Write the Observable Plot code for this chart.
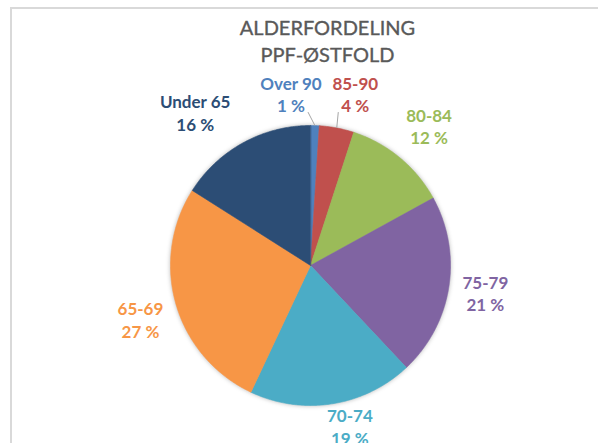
<!DOCTYPE html>
<html><head><meta charset="utf-8">
<script src="https://cdn.jsdelivr.net/npm/d3@7"></script>
<script src="https://cdn.jsdelivr.net/npm/@observablehq/plot@0.6"></script>
<style>
body{margin:0;background:#fff;overflow:hidden}
#wrap{position:relative;width:598px;height:443px;overflow:hidden}
#wrap svg{position:absolute;left:0;top:0}
#border{position:absolute;left:10px;top:7px;width:640px;height:480px;border-left:2px solid #d9d9d9;border-top:2px solid #d9d9d9;pointer-events:none}
</style></head><body>
<div id="wrap"><div id="border"></div></div>
<script>
// ---- data ----
const categories = ["Over 90", "85-90", "80-84", "75-79", "70-74", "65-69", "Under 65"];
const percents   = [1, 4, 12, 21, 19, 27, 16];
const colors     = ["#4F81BD", "#C0504D", "#9BBB59", "#8064A2", "#4BACC6", "#F79646", "#2C4D75"];
const titleLines = ["ALDERFORDELING", "PPF-ØSTFOLD"];
const leaderSlices = ["Over 90", "85-90"];

// ---- layout (pixels) ----
const W = 598, H = 443, cx = 310, cy = 265, R = 140, labelR = 1.25;
const labelNudge = {
  "Over 90": [-25, 3], "85-90": [12, 0], "80-84": [7, -5], "75-79": [2, 0],
  "70-74": [12, -12], "65-69": [-2, 5], "Under 65": [-31, 0]
};

const total = d3.sum(percents);
let cum = 0;
const slices = categories.map((c, i) => {
  const a0 = cum / total * 2 * Math.PI; cum += percents[i];
  const a1 = cum / total * 2 * Math.PI;
  const mid = (a0 + a1) / 2;
  const [nx, ny] = labelNudge[c];
  const lx = Math.sin(mid) * labelR + nx / R;
  const ly = Math.cos(mid) * labelR - ny / R;
  return {c, v: percents[i], a0, a1, mid, lx, ly};
});

// polygon outline of each slice, derived from its angles
const pts = [];
for (const s of slices) {
  pts.push({c: s.c, x: 0, y: 0});
  const n = Math.max(2, Math.ceil((s.a1 - s.a0) / (Math.PI / 360)));
  for (let k = 0; k <= n; k++) {
    const a = s.a0 + (s.a1 - s.a0) * k / n;
    pts.push({c: s.c, x: Math.sin(a), y: Math.cos(a)});
  }
}

const leaders = slices.filter(s => leaderSlices.includes(s.c)).map(s => ({
  x1: Math.sin(s.mid), y1: Math.cos(s.mid),
  x2: s.lx + (s.lx < Math.sin(s.mid) ? 17 : -17) / R, y2: s.ly - 18.5 / R
}));

const chart = Plot.plot({
  width: W, height: H, margin: 0,
  x: {domain: [-1, 1], range: [cx - R, cx + R], axis: null},
  y: {domain: [-1, 1], range: [cy + R, cy - R], axis: null},
  color: {domain: categories, range: colors},
  style: {background: "transparent", overflow: "visible"},
  marks: [
    Plot.line(pts, {x: "x", y: "y", z: "c", fill: "c", stroke: "c", strokeWidth: 0.6, curve: "linear-closed"}),
    Plot.link(leaders, {x1: "x1", y1: "y1", x2: "x2", y2: "y2", stroke: "#A6A6A6", strokeWidth: 1}),
    Plot.text(slices, {x: "lx", y: "ly", text: d => d.c + "\n" + d.v + " %", fill: "c",
      fontSize: 17, fontWeight: "bold", fontFamily: "Lato", lineHeight: 1.32, lineAnchor: "middle"}),
    Plot.text([titleLines.join("\n")], {frameAnchor: "top", dx: 28, dy: 39.5, lineAnchor: "middle",
      text: d => d, fontSize: 20, fontFamily: "Lato", fill: "#595959", stroke: "#595959", strokeWidth: 0.35, lineHeight: 1.36})
  ]
});
d3.select(chart).select('g[aria-label="line"]').style("filter", "drop-shadow(0px 0px 2px rgba(0,0,0,0.28))");
document.getElementById("wrap").prepend(chart);
</script>
</body></html>
